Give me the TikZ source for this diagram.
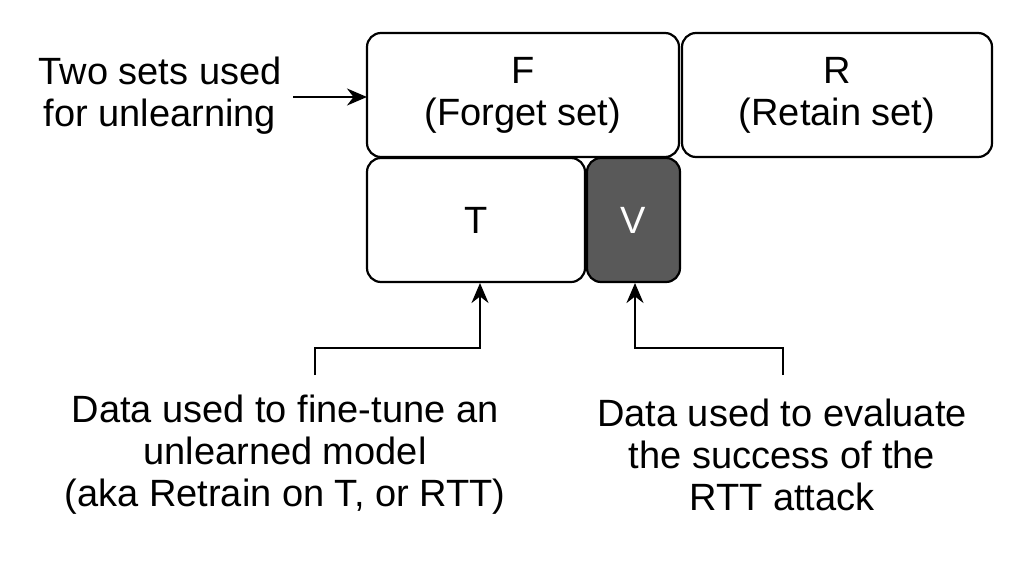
\documentclass[tikz,border=0pt]{standalone}
\usepackage{fontspec}
\setmainfont{Liberation Sans}
\usetikzlibrary{arrows.meta}
\begin{document}
\begin{tikzpicture}[x=1pt,y=-1pt,
  box/.style={draw=black,line width=2.2pt,rounded corners=14pt},
  lbl/.style={font=\fontsize{38}{42}\selectfont,align=center},
  arr/.style={line width=2.2pt,-{Stealth[length=20pt,width=17pt]}}]
\useasboundingbox (0,0) rectangle (1024,565);
\draw[box] (367,33) rectangle (679,157);
\node[lbl] (F) at (523,95) {F\\(Forget set)};
\draw[box] (682,33) rectangle (992,157);
\node[lbl] (R) at (837,95) {R\\(Retain set)};
\draw[box] (367,158) rectangle (585,282);
\node[lbl] (T) at (476,220) {T};
\draw[box,fill=black!65] (587,158) rectangle (680,282);
\node[lbl,text=white] (V) at (633,220) {V};
\node[lbl] (two) at (160,96) {Two sets used\\for unlearning};
\coordinate (Fl) at (367,97);
\draw[arr] (293,97) -- (Fl);
\node[lbl] (dl) at (285,455) {Data used to fine-tune an\\unlearned model\\(aka Retrain on T, or RTT)};
\node[lbl] (dr) at (782,455) {Data used to evaluate\\the success of the\\RTT attack};
\coordinate (Tb) at (480,283);
\coordinate (Vb) at (635,283);
\draw[arr] (315,375) -- (315,348) -- (480,348) -- (Tb);
\draw[arr] (783,375) -- (783,348) -- (635,348) -- (Vb);
\end{tikzpicture}
\end{document}
